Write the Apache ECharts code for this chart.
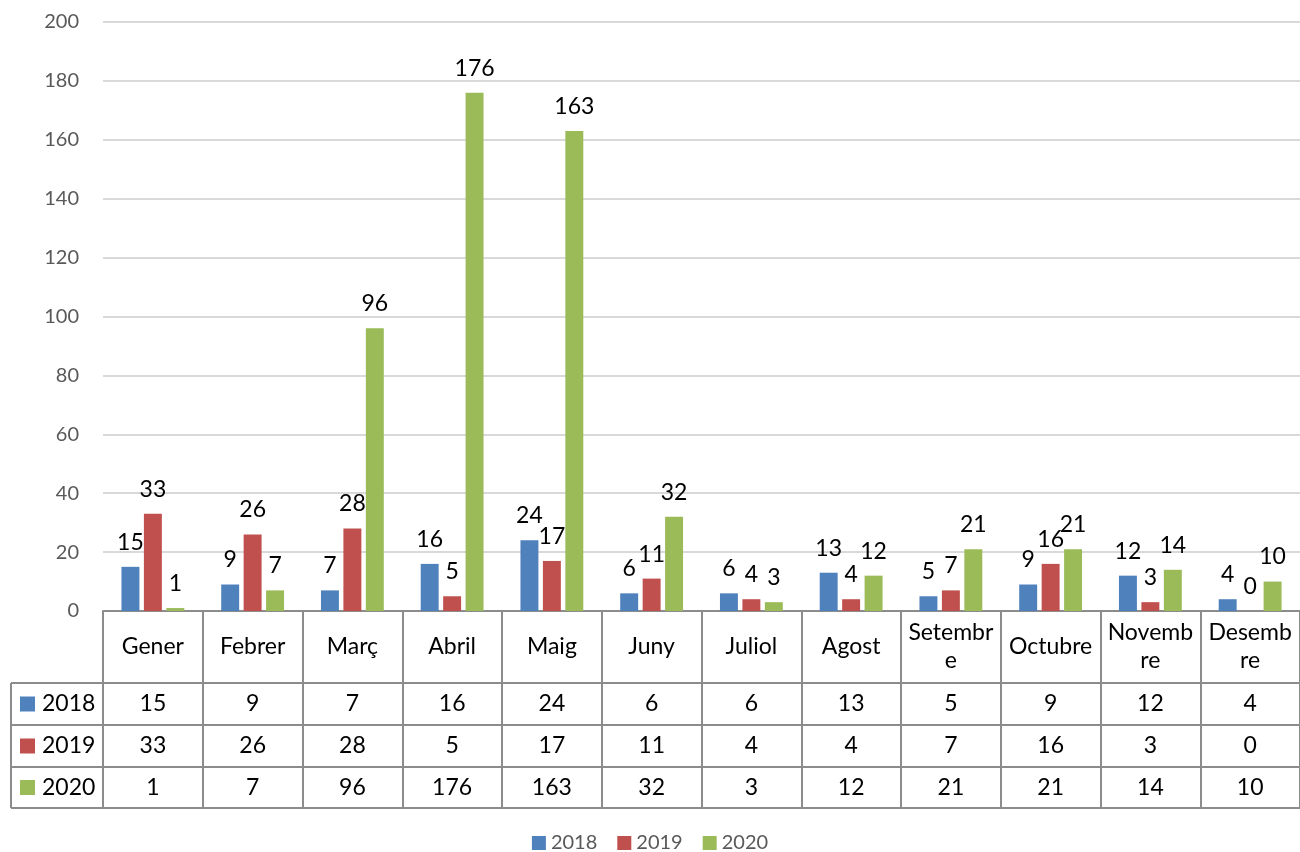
<!DOCTYPE html>
<html>
<head>
<meta charset="utf-8">
<script src="https://cdn.jsdelivr.net/npm/echarts@6/dist/echarts.min.js"></script>
<style>
  html, body { margin: 0; padding: 0; background: #fff; }
  #chart { width: 1300px; height: 852px; }
</style>
</head>
<body>
<div id="chart"></div>
<script>
const months = ['Gener', 'Febrer', 'Març', 'Abril', 'Maig', 'Juny', 'Juliol', 'Agost', 'Setembre', 'Octubre', 'Novembre', 'Desembre']
const headerLabels = ['Gener', 'Febrer', 'Març', 'Abril', 'Maig', 'Juny', 'Juliol', 'Agost', 'Setembr\ne', 'Octubre', 'Novemb\nre', 'Desemb\nre']
const years = ['2018', '2019', '2020']
const v2018 = [15, 9, 7, 16, 24, 6, 6, 13, 5, 9, 12, 4]
const v2019 = [33, 26, 28, 5, 17, 11, 4, 4, 7, 16, 3, 0]
const v2020 = [1, 7, 96, 176, 163, 32, 3, 12, 21, 21, 14, 10]
const colors = ['#4f81bd', '#c0504d', '#9bbb59']

const font = 'Lato, "Liberation Sans", sans-serif'
const lineColor = '#8c8c8c'
const bigSize = 23

// plot / table geometry
const gridLeft = 103
const gridTop = 22
const gridHeight = 589
const axisY = gridTop + gridHeight
const rowLines = [683, 725, 767, 808]
const tableLeft = 11

const values = [v2018, v2019, v2020]

function rowAxis (k) {
  const center = (rowLines[k] + rowLines[k + 1]) / 2
  return {
    type: 'category',
    data: months,
    position: 'bottom',
    offset: center - axisY,
    axisLine: { show: false },
    axisTick: { show: false },
    axisLabel: {
      interval: 0,
      margin: 0,
      verticalAlign: 'middle',
      color: '#000',
      fontSize: bigSize,
      fontFamily: font,
      formatter: (v, i) => String(values[k][i])
    }
  }
}

function buildGraphic () {
  const g = []
  rowLines.forEach(y => {
    g.push({
      type: 'line',
      shape: { x1: tableLeft, y1: y, x2: 1300, y2: y },
      style: { stroke: lineColor, lineWidth: 2 }
    })
  })
  g.push({
    type: 'line',
    shape: { x1: tableLeft, y1: rowLines[0], x2: tableLeft, y2: rowLines[3] },
    style: { stroke: lineColor, lineWidth: 2 }
  })
  years.forEach((name, k) => {
    const cy = (rowLines[k] + rowLines[k + 1]) / 2
    g.push({
      type: 'rect',
      shape: { x: 20, y: cy - 7.5, width: 15, height: 15 },
      style: { fill: colors[k] }
    })
    g.push({
      type: 'text',
      x: 42,
      y: cy,
      style: { text: name, fill: '#000', font: bigSize + 'px ' + font, textVerticalAlign: 'middle' }
    })
  })
  return g
}

const chart = echarts.init(document.getElementById('chart'))
chart.setOption({
  animation: false,
  color: colors,
  textStyle: { fontFamily: font },
  grid: { left: gridLeft, top: gridTop, width: 1204, height: gridHeight },
  legend: {
    top: 833,
    left: 'center',
    padding: 0,
    itemWidth: 14,
    itemHeight: 14,
    itemGap: 20,
    icon: 'rect',
    textStyle: { color: '#595959', fontSize: 20, fontFamily: font },
    data: years
  },
  xAxis: [
    {
      type: 'category',
      data: headerLabels,
      position: 'bottom',
      axisLine: { lineStyle: { color: lineColor, width: 2 } },
      axisTick: { show: true, interval: 0, length: rowLines[3] - axisY, lineStyle: { color: lineColor, width: 2 } },
      axisLabel: {
        interval: 0,
        margin: 36,
        verticalAlign: 'middle',
        color: '#000',
        fontSize: bigSize,
        lineHeight: 28,
        fontFamily: font
      }
    },
    rowAxis(0),
    rowAxis(1),
    rowAxis(2)
  ],
  yAxis: {
    type: 'value',
    min: 0,
    max: 200,
    interval: 20,
    axisLine: { show: false },
    axisTick: { show: false },
    axisLabel: { color: '#595959', fontSize: 20, margin: 24, fontFamily: font },
    splitLine: { lineStyle: { color: '#d9d9d9', width: 2 } }
  },
  series: years.map((name, k) => ({
    name: name,
    type: 'bar',
    data: values[k],
    barGap: '25%',
    barCategoryGap: '37%',
    label: {
      show: true,
      position: 'top',
      distance: 13,
      color: '#000',
      fontSize: bigSize,
      fontFamily: font
    }
  })),
  graphic: buildGraphic()
})
</script>
</body>
</html>
